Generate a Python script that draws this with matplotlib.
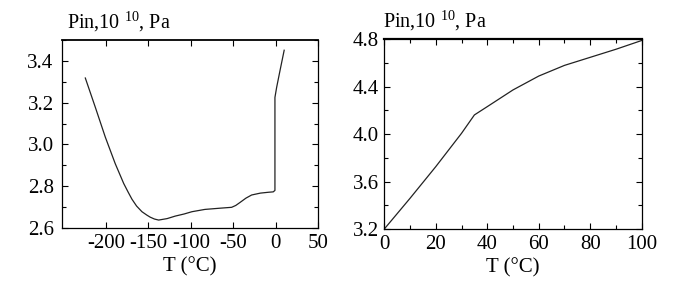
import matplotlib
matplotlib.use("Agg")
import matplotlib.pyplot as plt
from matplotlib.ticker import MultipleLocator

plt.rcParams['font.family'] = ['Liberation Serif', 'DejaVu Serif']
plt.rcParams['axes.unicode_minus'] = False
plt.rcParams['mathtext.fontset'] = 'custom'
plt.rcParams['mathtext.rm'] = 'Liberation Serif'

# Left panel data (T in °C, Pin in 10^10 Pa)
t_low = [-224.5, -212.7, -200.9, -189.2, -179.2, -174, -169.5, -164, -157.7, -152, -148, -143, -138.0,
         -128, -118.4, -108, -98.7, -83.4, -65, -51.9, -47, -42.1, -35, -28.3, -18, -8.7, -2.8,
         -0.8, -0.8, 1.2, 5.1, 10.1]
p_low = [3.318, 3.178, 3.035, 2.908, 2.813, 2.772, 2.738, 2.705, 2.678, 2.662, 2.652, 2.643, 2.638,
         2.645, 2.657, 2.667, 2.678, 2.689, 2.695, 2.699, 2.708, 2.722, 2.743, 2.758, 2.767, 2.771, 2.773,
         2.78, 3.225, 3.273, 3.352, 3.451]

# Right panel data
t_high = [0, 10, 20, 30, 35, 40, 50, 60, 70, 80, 90, 100]
p_high = [3.2, 3.459, 3.726, 4.007, 4.162, 4.232, 4.373, 4.49, 4.58, 4.648, 4.716, 4.79]

fig = plt.figure(figsize=(6.87, 2.94), dpi=100)
ax1 = fig.add_axes([62/687, 1-228/294, 256/687, 188/294])
ax2 = fig.add_axes([384.3/687, 1-229/294, 257.4/687, 189.7/294])

ax1.plot(t_low, p_low, color='#222222', lw=0.9)
ax1.set_xlim(-252, 50)
ax1.set_ylim(2.6, 3.5)
ax1.set_xticks([-200, -150, -100, -50, 0, 50])
ax1.set_yticks([2.6, 2.8, 3.0, 3.2, 3.4])
ax1.yaxis.set_minor_locator(MultipleLocator(0.1))

ax2.plot(t_high, p_high, color='#222222', lw=0.9)
ax2.set_xlim(0, 100)
ax2.set_ylim(3.2, 4.8)
ax2.set_xticks([0, 20, 40, 60, 80, 100])
ax2.xaxis.set_minor_locator(MultipleLocator(10))
ax2.set_yticks([3.2, 3.6, 4.0, 4.4, 4.8])
ax2.yaxis.set_minor_locator(MultipleLocator(0.2))

for ax, ypad in ((ax1, 6), (ax2, 4)):
    ax.tick_params(direction='in', top=True, right=True, which='both', labelsize=15)
    ax.tick_params(axis='x', pad=4)
    ax.tick_params(axis='y', pad=ypad)
    ax.tick_params(which='major', length=4, width=0.8)
    ax.tick_params(which='minor', length=3, width=0.8)
    for s in ax.spines.values():
        s.set_linewidth(0.9)
    ax.set_xlabel('T (°C)', fontsize=15, labelpad=3)
    ax.set_yticklabels([f'{v:.1f}' for v in ax.get_yticks()])

ax1.spines['top'].set_linewidth(1.3)
ax2.spines['top'].set_linewidth(1.6)

fig.text(67/687, 1-28/294, 'Pin,10 $^{10}$, Pa', fontsize=14.5, ha='left', va='baseline')
fig.text(383/687, 1-27/294, 'Pin,10 $^{10}$, Pa', fontsize=14.5, ha='left', va='baseline')

fig.savefig('out.png', dpi=100)
